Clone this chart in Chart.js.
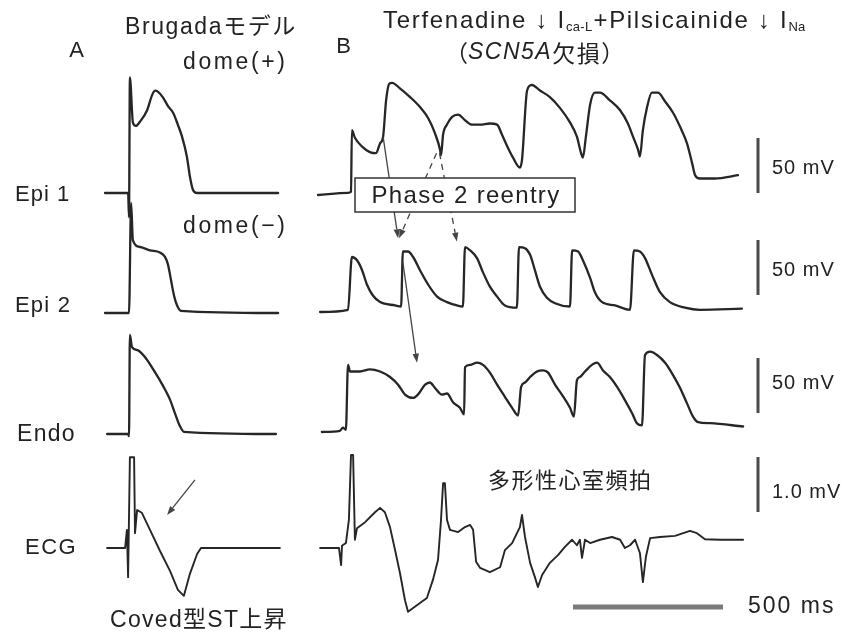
<!DOCTYPE html>
<html>
<head>
<meta charset="utf-8">
<script src="https://cdn.jsdelivr.net/npm/chart.js@4/dist/chart.umd.min.js"></script>
<style>
  html, body { margin: 0; padding: 0; background: #fff; }
  canvas { display: block; }
</style>
</head>
<body>
<canvas id="c" width="846" height="632"></canvas>
<script>
// Sweeps: time in ms from sweep start, action potentials in mV above rest, ECG in mV.

// A: Brugada model, single beat
const timeA_epi1 = [0, 77, 80, 83, 93, 103, 117, 140, 157, 167, 177, 193, 210, 227, 243, 257, 273, 283, 293, 307, 450, 577];
const mvA_epi1   = [0, 0, -22, 105, 64, 61, 65, 75, 89, 93, 92, 87, 79, 73, 62, 51, 33, 15, 3, 0, 0, 0];

const timeA_epi2 = [0, 80, 87, 93, 117, 150, 183, 200, 210, 220, 230, 240, 253, 577];
const mvA_epi2   = [0, 0, 100, 66, 60, 57, 55, 51, 44, 30, 16, 7, 2, 0];

const timeA_endo = [7, 77, 80, 83, 90, 110, 133, 167, 193, 217, 233, 250, 263, 570];
const mvA_endo   = [0, 0, -2, 90, 79, 76, 70, 56, 44, 31, 19, 7, 2, 0];

const timeA_ecg = [7, 67, 73, 77, 83, 97, 100, 107, 123, 150, 183, 217, 243, 263, 283, 307, 320, 583];
const mvA_ecg   = [0, 0, 0.33, -0.53, 1.65, 1.65, 0.27, 0.69, 0.64, 0.33, -0.05, -0.42, -0.76, -0.87, -0.47, -0.11, 0, 0];

// B: terfenadine + pilsicainide, phase 2 reentry and polymorphic VT
const timeB_epi1 = [0, 100, 110, 113, 123, 147, 173, 193, 207, 217, 227, 237, 247, 273, 307, 340, 367, 390, 407, 410,
  417, 430, 447, 467, 490, 513, 540, 573, 597, 613, 633, 650, 673, 680, 697, 713, 740, 773, 807, 840,
  863, 877, 883, 893, 907, 923, 940, 973, 1007, 1033, 1050, 1067, 1073, 1083, 1097, 1113, 1133, 1157, 1183, 1207,
  1230, 1247, 1257, 1273, 1323, 1400];
const mvB_epi1 = [0, 2, 3, 59, 52, 44, 39, 38, 47, 53, 86, 101, 102, 97, 89, 80, 70, 56, 41, 36,
  55, 64, 71, 73, 68, 64, 64, 65, 64, 55, 43, 34, 25, 32, 95, 100, 95, 89, 79, 66,
  53, 38, 34, 53, 82, 93, 93, 86, 77, 65, 53, 41, 35, 59, 80, 93, 93, 85, 75, 62,
  47, 29, 18, 15, 15, 18];

const timeB_epi2 = [7, 100, 113, 130, 147, 163, 183, 207, 257, 277, 283, 300, 317, 340, 367, 397, 430, 463, 483, 490,
  507, 530, 550, 573, 597, 623, 663, 670, 690, 707, 723, 740, 763, 790, 840, 847, 867, 883, 907, 923,
  947, 990, 1040, 1053, 1073, 1090, 1113, 1140, 1173, 1223, 1273, 1413];
const mvB_epi2 = [0, 2, 50, 47, 38, 25, 15, 9, 6, 5, 55, 55, 50, 38, 25, 14, 9, 6, 5, 59,
  56, 49, 36, 23, 14, 6, 4, 59, 58, 52, 38, 23, 13, 8, 5, 56, 55, 47, 31, 18,
  9, 6, 2, 56, 55, 49, 34, 18, 9, 4, 2, 3];

const timeB_endo = [13, 73, 83, 93, 100, 107, 140, 173, 207, 240, 267, 290, 317, 333, 357, 373, 390, 413, 430, 450,
  473, 487, 490, 507, 530, 550, 573, 597, 623, 647, 667, 677, 690, 707, 730, 750, 767, 790, 813, 840,
  853, 863, 873, 890, 913, 930, 950, 973, 997, 1023, 1047, 1063, 1080, 1090, 1107, 1130, 1157, 1183, 1207, 1230,
  1250, 1267, 1307, 1417];
const mvB_endo = [0, 1, 4, 2, 61, 55, 55, 57, 55, 50, 43, 34, 31, 34, 43, 45, 40, 34, 35, 27,
  22, 16, 59, 61, 63, 61, 54, 43, 32, 22, 15, 41, 45, 50, 55, 56, 54, 43, 34, 22,
  14, 47, 50, 55, 61, 63, 56, 50, 41, 29, 17, 8, 6, 70, 73, 70, 63, 52, 40, 26,
  14, 9, 8, 5];

const timeB_ecg = [7, 70, 77, 80, 93, 103, 110, 117, 123, 130, 157, 190, 207, 223, 240, 257, 273, 290, 300, 317,
  340, 363, 383, 400, 410, 417, 423, 430, 440, 467, 490, 507, 517, 527, 540, 573, 607, 623, 647, 673,
  680, 690, 707, 723, 733, 747, 773, 800, 823, 847, 863, 873, 880, 890, 907, 940, 980, 1007, 1023, 1040,
  1057, 1073, 1083, 1093, 1107, 1140, 1190, 1240, 1263, 1290, 1340, 1417];
const mvB_ecg = [0, 0, -0.31, 0.04, 0.09, 0.51, 1.69, 1.69, 0.15, 0.36, 0.47, 0.65, 0.73, 0.65, 0.38, -0.04, -0.45, -0.95, -1.16, -1.09,
  -1.0, -0.91, -0.58, -0.22, 0.51, 1.18, 1.18, 0.51, 0.33, 0.29, 0.38, 0.42, 0.33, -0.25, -0.36, -0.44, -0.35, -0.04, 0.09, 0.38,
  0.6, 0.2, -0.27, -0.53, -0.71, -0.49, -0.27, -0.13, 0.02, 0.15, 0.05, 0.15, -0.18, 0.15, 0.09, 0.15, 0.2, 0.15, 0, 0.05,
  0.15, -0.09, -0.62, -0.16, 0.18, 0.2, 0.22, 0.31, 0.27, 0.16, 0.15, 0.15];

// Calibration bars
const voltBarValues = [50, 50, 50, 1.0];
const voltBarLabels = ['50 mV', '50 mV', '50 mV', '1.0 mV'];
const timeBarValue = 500;
const timeBarLabel = '500 ms';

// ---- layout ----
const W = 846, H = 632;
const PX_PER_MS = 0.3;           // horizontal sweep speed
const PX_PER_MV = 1.1;           // gain of the membrane-potential channels
const ECG_GAIN = 50;             // 1 mV of ECG is drawn as tall as 50 mV of AP
const SWEEP_A = 105 / PX_PER_MS; // sweep start, panel A (ms on the page axis)
const SWEEP_B = 318 / PX_PER_MS; // sweep start, panel B
// baseline of each row (page pixels from top)
const rowA = { epi1: 193, epi2: 313, endo: 434, ecg: 548 };
const rowB = { epi1: 195, epi2: 312, endo: 432, ecg: 548 };
const base = px => -px / PX_PER_MV;

function sweep(ts, vs, t0, rowPx, gain) {
  return ts.map((t, i) => ({ x: t0 + t, y: base(rowPx) + vs[i] * gain }));
}

const TRACE = '#262626';
function traceSet(points, width, smooth) {
  return { data: points, showLine: true, borderColor: TRACE, borderWidth: width || 2.3,
           pointRadius: 0, fill: false, clip: false, borderJoinStyle: 'round', borderCapStyle: 'round',
           cubicInterpolationMode: smooth ? 'monotone' : 'default', tension: 0 };
}

const datasets = [
  traceSet(sweep(timeA_epi1, mvA_epi1, SWEEP_A, rowA.epi1, 1), 2.3, true),
  traceSet(sweep(timeA_epi2, mvA_epi2, SWEEP_A, rowA.epi2, 1), 2.3, true),
  traceSet(sweep(timeA_endo, mvA_endo, SWEEP_A, rowA.endo, 1), 2.3, true),
  traceSet(sweep(timeA_ecg, mvA_ecg, SWEEP_A, rowA.ecg, ECG_GAIN), 1.9, false),
  traceSet(sweep(timeB_epi1, mvB_epi1, SWEEP_B, rowB.epi1, 1), 2.3, true),
  traceSet(sweep(timeB_epi2, mvB_epi2, SWEEP_B, rowB.epi2, 1), 2.3, true),
  traceSet(sweep(timeB_endo, mvB_endo, SWEEP_B, rowB.endo, 1), 2.3, true),
  traceSet(sweep(timeB_ecg, mvB_ecg, SWEEP_B, rowB.ecg, ECG_GAIN), 1.9, false)
];

// vertical calibration bars: page bottom of each bar and its gain
const BAR_X = 758 / PX_PER_MS;
const barBottoms = [193, 295, 413, 512];
const barGains = [1, 1, 1, ECG_GAIN];
voltBarValues.forEach((v, i) => {
  datasets.push({ data: [{ x: BAR_X, y: base(barBottoms[i]) }, { x: BAR_X, y: base(barBottoms[i]) + v * barGains[i] }],
    showLine: true, borderColor: '#4a4a4a', borderWidth: 3, pointRadius: 0, borderCapStyle: 'butt', clip: false });
});
// horizontal time bar
const TBAR_X0 = 573 / PX_PER_MS, TBAR_Y = 607;
datasets.push({ data: [{ x: TBAR_X0, y: base(TBAR_Y) }, { x: TBAR_X0 + timeBarValue, y: base(TBAR_Y) }],
  showLine: true, borderColor: '#7a7a7a', borderWidth: 5, pointRadius: 0, borderCapStyle: 'butt', clip: false });

// ---- annotations: arrows, box, text ----
const SANS = '"Liberation Sans", "Noto Sans CJK JP", sans-serif';
const CJK = '"Noto Sans CJK JP", "Liberation Sans", sans-serif';

function drawArrow(ctx, x1, y1, x2, y2, dashed) {
  ctx.save();
  ctx.strokeStyle = '#444'; ctx.fillStyle = '#444'; ctx.lineWidth = 1.3;
  ctx.setLineDash(dashed ? [6, 5] : []);
  const a = Math.atan2(y2 - y1, x2 - x1);
  const hl = 9, hw = 3.2;
  const bx = x2 - hl * Math.cos(a), by = y2 - hl * Math.sin(a);
  ctx.beginPath(); ctx.moveTo(x1, y1); ctx.lineTo(bx, by); ctx.stroke();
  ctx.setLineDash([]);
  ctx.beginPath();
  ctx.moveTo(x2, y2);
  ctx.lineTo(bx + hw * Math.sin(a), by - hw * Math.cos(a));
  ctx.lineTo(bx - hw * Math.sin(a), by + hw * Math.cos(a));
  ctx.closePath(); ctx.fill();
  ctx.restore();
}

function text(ctx, str, x, y, size, opts) {
  opts = opts || {};
  ctx.font = (opts.style || '') + ' ' + size + 'px ' + (opts.family || SANS);
  ctx.letterSpacing = (opts.ls != null ? opts.ls : 1) + 'px';
  ctx.fillStyle = opts.color || '#222';
  ctx.textAlign = opts.align || 'left';
  ctx.textBaseline = 'middle';
  ctx.fillText(str, x, y);
  return x + ctx.measureText(str).width;
}

const annotations = {
  id: 'annotations',
  afterDatasetsDraw(chart) {
    const { ctx, scales: { x, y } } = chart;
    const P = (t0, t, rowPx, v) => [x.getPixelForValue(t0 + t), y.getPixelForValue(base(rowPx) + v)];
    ctx.save();

    // conduction arrows in panel B
    let s, e;
    s = P(SWEEP_B, 217, rowB.epi1, 53); e = P(SWEEP_B, 267, rowB.epi2, 67); drawArrow(ctx, ...s, ...e, false);
    s = P(SWEEP_B, 395, rowB.epi1, 38); e = P(SWEEP_B, 270, rowB.epi2, 67); drawArrow(ctx, ...s, ...e, true);
    s = P(SWEEP_B, 405, rowB.epi1, 38); e = P(SWEEP_B, 463, rowB.epi2, 64); drawArrow(ctx, ...s, ...e, true);
    s = P(SWEEP_B, 283, rowB.epi2, 45); e = P(SWEEP_B, 330, rowB.endo, 63); drawArrow(ctx, ...s, ...e, false);
    // ST-segment arrow in panel A
    s = P(SWEEP_A, 300, rowA.ecg, 1.24 * ECG_GAIN); e = P(SWEEP_A, 207, rowA.ecg, 0.6 * ECG_GAIN); drawArrow(ctx, ...s, ...e, false);

    // "Phase 2 reentry" box
    ctx.fillStyle = '#fff'; ctx.strokeStyle = '#333'; ctx.lineWidth = 1.5;
    ctx.fillRect(355, 178, 220, 34); ctx.strokeRect(355, 178, 220, 34);
    text(ctx, 'Phase 2 reentry', 466, 196, 24, { align: 'center', ls: 1.3 });

    // panel A titles
    text(ctx, 'A', 77, 51, 22, { align: 'center' });
    text(ctx, 'Brugadaモデル', 125, 28, 23, { ls: 1.6 });
    text(ctx, 'dome(+)', 183, 63, 23, { ls: 2.6 });
    text(ctx, 'dome(−)', 183, 227, 23, { ls: 2.6 });
    text(ctx, 'Coved型ST上昇', 110, 621, 23, { ls: 1.3 });

    // row labels
    text(ctx, 'Epi 1', 15, 195, 22, { ls: 1 });
    text(ctx, 'Epi 2', 15, 306, 22, { ls: 1.2 });
    text(ctx, 'Endo', 17, 435, 23, { ls: 1.3 });
    text(ctx, 'ECG', 25, 548, 22, { ls: 1.5 });

    // panel B titles
    text(ctx, 'B', 344, 47, 22, { align: 'center' });
    let cx = 383;
    cx = text(ctx, 'Terfenadine ↓ I', cx, 21, 24, { ls: 1.7 });
    cx = text(ctx, 'ca-L', cx, 27, 13, { ls: 0.3 });
    cx = text(ctx, '+Pilsicainide ↓ I', cx + 1, 21, 24, { ls: 1.7 });
    text(ctx, 'Na', cx, 27, 13, { ls: 0.3 });
    cx = 445;
    cx = text(ctx, '（', cx, 53, 23, { family: CJK, ls: 0 });
    cx = text(ctx, 'SCN5A', cx, 53, 23, { style: 'italic', ls: 1.5 });
    cx = text(ctx, '欠損', cx, 53, 23, { family: CJK, ls: 1.5 });
    text(ctx, '）', cx, 53, 23, { family: CJK, ls: 0 });
    text(ctx, '多形性心室頻拍', 488, 480, 22, { family: CJK, ls: 1.5 });

    // calibration labels
    const labelY = [168, 270, 383, 492];
    voltBarLabels.forEach((l, i) => text(ctx, l, 772, labelY[i], 20, { ls: 1 }));
    text(ctx, timeBarLabel, 748, 607, 23, { ls: 2 });

    ctx.restore();
  }
};

new Chart(document.getElementById('c'), {
  type: 'scatter',
  data: { datasets },
  options: {
    responsive: false,
    animation: false,
    devicePixelRatio: 1,
    events: [],
    layout: { padding: 0 },
    plugins: { legend: { display: false }, tooltip: { enabled: false } },
    scales: {
      x: { type: 'linear', display: false, min: 0, max: W / PX_PER_MS },
      y: { type: 'linear', display: false, min: -H / PX_PER_MV, max: 0 }
    }
  },
  plugins: [annotations]
});
</script>
</body>
</html>
